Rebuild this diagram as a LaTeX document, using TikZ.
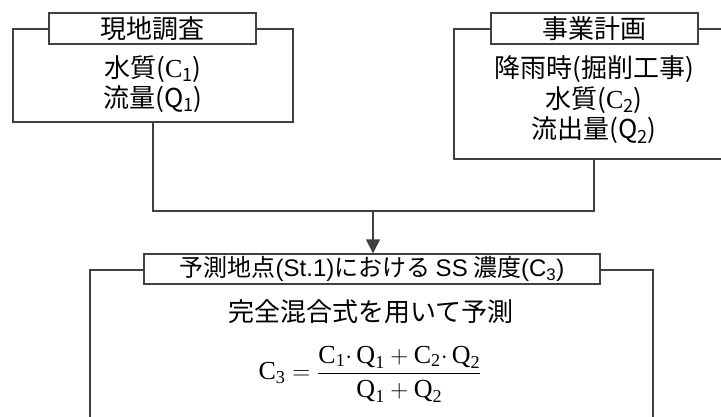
\documentclass[tikz,border=0pt]{standalone}
\usepackage{fontspec}
\usepackage{amsmath}
\setmainfont{Liberation Serif}
\newfontfamily\jpfont{Noto Sans CJK JP}
\newfontfamily\arialfont{Liberation Sans}
\usetikzlibrary{arrows.meta}
\tikzset{
  frame/.style={draw=black!75, line width=1.4pt, inner sep=0pt},
  titlebox/.style={draw=black!75, line width=1.4pt, fill=white, inner sep=0pt,
    minimum height=31, font=\jpfont\fontsize{26}{30}\selectfont},
  bodytext/.style={inner sep=0pt, font=\jpfont\fontsize{26}{30}\selectfont},
}
\begin{document}
\begin{tikzpicture}[x=1pt,y=-1pt]
  \useasboundingbox (0,0) rectangle (721,416);
  \clip (0,0) rectangle (721,416);
  % 現地調査
  \node[frame, minimum width=280, minimum height=93] (chosa) at (153,75.5) {};
  \node[titlebox, minimum width=207] (chosatitle) at (152.5,28.5) {現地調査};
  \node[bodytext] (chosaC) at (153,69) {水質({\rmfamily C}\textsubscript{1})};
  \node[bodytext] (chosaQ) at (153,99) {流量(Q\textsubscript{1})};
  % 事業計画
  \node[frame, minimum width=280, minimum height=130] (keikaku) at (594,94) {};
  \node[titlebox, minimum width=207] (keikakutitle) at (594.5,28.5) {事業計画};
  \node[bodytext] (keikakuA) at (594,69) {降雨時(掘削工事)};
  \node[bodytext] (keikakuC) at (594,100) {水質({\rmfamily C}\textsubscript{2})};
  \node[bodytext] (keikakuQ) at (594,130) {流出量(Q\textsubscript{2})};
  % 予測
  \node[frame, minimum width=563, minimum height=170] (yosoku) at (371.5,355) {};
  \node[titlebox, minimum width=456, minimum height=30,
    font=\jpfont\fontsize{24}{28}\selectfont] (yosokutitle) at (372,269)
    {予測地点{\arialfont(St.1)}における {\arialfont SS} 濃度{\arialfont(C\textsubscript{3})}};
  \node[bodytext] (yosokutext) at (371,312) {完全混合式を用いて予測};
  \node[inner sep=0pt, font=\fontsize{26}{31}\selectfont] (yosokushiki) at (370,374)
    {$\text{C}_{\text{3}} = \dfrac{\text{C}_{\text{1}}{\cdot}\,\text{Q}_{\text{1}} + \text{C}_{\text{2}}{\cdot}\,\text{Q}_{\text{2}}}{\text{Q}_{\text{1}} + \text{Q}_{\text{2}}}$};
  % connectors
  \coordinate (join) at (373,211);
  \draw[draw=black!75, line width=1.4pt] (chosa.south) |- (join) -| (keikaku.south);
  \draw[draw=black!75, line width=1.4pt, -{Triangle[length=14pt,width=14pt]}]
    (join) -- (yosokutitle.north -| join);
\end{tikzpicture}
\end{document}
